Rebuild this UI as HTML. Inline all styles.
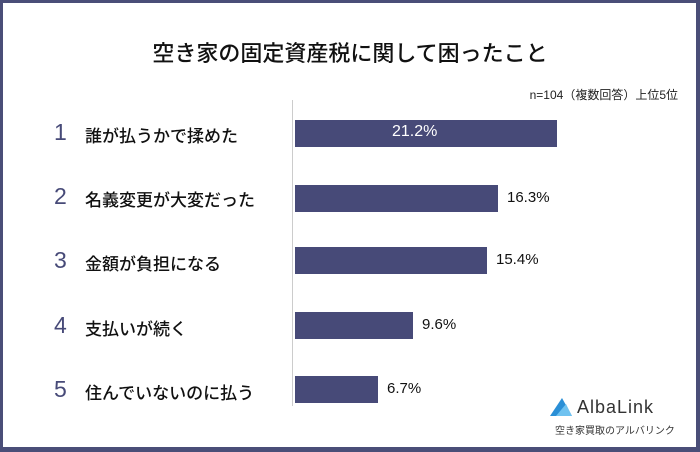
<!DOCTYPE html>
<html><head><meta charset="utf-8"><style>
body{margin:0;width:700px;height:452px;overflow:hidden;background:#fff;font-family:"Liberation Sans","Noto Sans CJK JP",sans-serif}
.f{position:absolute;left:0;top:0;width:700px;height:452px;box-sizing:border-box;border:3px solid #4a4e78;border-bottom-width:5px;border-right-width:4px;background:#fff}
.t{position:absolute;left:0;width:700px;top:36px;text-align:center;font-size:22px;color:#111;font-weight:500}
.n{position:absolute;right:22px;top:86px;font-size:12px;color:#222}
.ax{position:absolute;left:292px;top:100px;width:1px;height:306px;background:#ccc}
.b{position:absolute;left:295px;height:27px;background:#474a78}
.num{position:absolute;left:54px;font-size:23px;color:#474a78}
.lb{position:absolute;left:85px;font-size:17px;color:#111;font-weight:500}
.v{position:absolute;font-size:15px;color:#111;font-weight:500}
</style></head><body><div class="f"></div>
<div class="t">空き家の固定資産税に関して困ったこと</div>
<div class="n">n=104（複数回答）上位5位</div>
<div class="ax"></div>
<div class="num" style="top:119px">1</div><div class="lb" style="top:122px">誰が払うかで揉めた</div>
<div class="b" style="top:120px;width:262px"></div><div class="v" style="top:123px;left:392px;color:#fff;font-size:16px">21.2%</div>
<div class="num" style="top:183px">2</div><div class="lb" style="top:186px">名義変更が大変だった</div>
<div class="b" style="top:185px;width:203px"></div><div class="v" style="top:189px;left:507px">16.3%</div>
<div class="num" style="top:247px">3</div><div class="lb" style="top:250px">金額が負担になる</div>
<div class="b" style="top:247px;width:192px"></div><div class="v" style="top:251px;left:496px">15.4%</div>
<div class="num" style="top:312px">4</div><div class="lb" style="top:315px">支払いが続く</div>
<div class="b" style="top:312px;width:118px"></div><div class="v" style="top:316px;left:422px">9.6%</div>
<div class="num" style="top:376px">5</div><div class="lb" style="top:379px">住んでいないのに払う</div>
<div class="b" style="top:376px;width:83px"></div><div class="v" style="top:380px;left:387px">6.7%</div>
<svg style="position:absolute;left:548px;top:396px" width="26" height="22"><polygon points="2,20 14,2 24,20" fill="#2a8fd6"/><polygon points="8,20 18,8 24,20" fill="#6fc2f0"/></svg>
<div style="position:absolute;left:577px;top:397px;font-size:18px;color:#333;letter-spacing:1px">AlbaLink</div>
<div style="position:absolute;left:555px;top:422px;font-size:10px;color:#333">空き家買取のアルバリンク</div>
</body></html>
